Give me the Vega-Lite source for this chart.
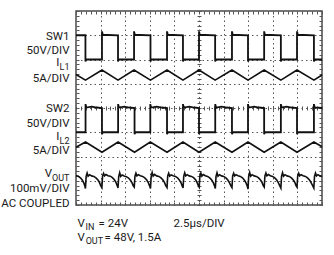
{
"$schema": "https://vega.github.io/schema/vega-lite/v6.json",
"width": 246, "height": 194,
"autosize": {"type": "none"},
"padding": {"left": 76, "top": 11, "right": 12, "bottom": 50},
"background": "white",
"config": {
 "view": {"stroke": "#4a4a4a", "strokeWidth": 1.5},
 "axis": {"domain": false, "grid": false, "labels": false, "ticks": false, "labelFont": "Roboto", "labelColor": "#1a1a1a", "tickColor": "#555", "tickWidth": 1, "labelFlush": false, "labelOverlap": false, "labelBound": false}
},
"datasets": {
"sw1": [{"t":0,"v":7},
{"t":0.96,"v":7},{"t":0.96,"v":5.92},{"t":1.05,"v":6},
{"t":2.64,"v":6},{"t":2.64,"v":7.16},{"t":2.72,"v":7.02},
{"t":4.27,"v":7},{"t":4.27,"v":5.92},{"t":4.36,"v":6},
{"t":5.9,"v":6},{"t":5.9,"v":7.16},{"t":5.98,"v":7.02},
{"t":7.57,"v":7},{"t":7.57,"v":5.92},{"t":7.66,"v":6},
{"t":9.25,"v":6},{"t":9.25,"v":7.16},{"t":9.33,"v":7.02},
{"t":10.87,"v":7},{"t":10.87,"v":5.92},{"t":10.96,"v":6},
{"t":12.5,"v":6},{"t":12.5,"v":7.16},{"t":12.58,"v":7.02},
{"t":14.14,"v":7},{"t":14.14,"v":5.92},{"t":14.23,"v":6},
{"t":15.85,"v":6},{"t":15.85,"v":7.16},{"t":15.93,"v":7.02},
{"t":17.48,"v":7},{"t":17.48,"v":5.92},{"t":17.57,"v":6},
{"t":19.12,"v":6},{"t":19.12,"v":7.16},{"t":19.2,"v":7.02},
{"t":20.82,"v":7},{"t":20.82,"v":5.92},{"t":20.91,"v":6},
{"t":22.46,"v":6},{"t":22.46,"v":7.16},{"t":22.54,"v":7.02},
{"t":24.18,"v":7},{"t":24.18,"v":5.92},{"t":24.27,"v":6},
{"t":25,"v":6}],
"sw2": [{"t":0,"v":3},
{"t":0.97,"v":3},{"t":0.97,"v":4.16},{"t":1.05,"v":4.02},{"t":1.6,"v":4.06},{"t":2.1,"v":4.02},
{"t":2.64,"v":4},{"t":2.64,"v":2.92},{"t":2.73,"v":3},
{"t":4.28,"v":3},{"t":4.28,"v":4.16},{"t":4.36,"v":4.02},{"t":4.9,"v":4.06},{"t":5.4,"v":4.02},
{"t":5.95,"v":4},{"t":5.95,"v":2.92},{"t":6.04,"v":3},
{"t":7.55,"v":3},{"t":7.55,"v":4.16},{"t":7.63,"v":4.02},{"t":8.2,"v":4.06},{"t":8.7,"v":4.02},
{"t":9.25,"v":4},{"t":9.25,"v":2.92},{"t":9.34,"v":3},
{"t":10.87,"v":3},{"t":10.87,"v":4.16},{"t":10.95,"v":4.02},{"t":11.5,"v":4.06},{"t":12,"v":4.02},
{"t":12.5,"v":4},{"t":12.5,"v":2.92},{"t":12.59,"v":3},
{"t":14.15,"v":3},{"t":14.15,"v":4.16},{"t":14.23,"v":4.02},{"t":14.8,"v":4.06},{"t":15.3,"v":4.02},
{"t":15.85,"v":4},{"t":15.85,"v":2.92},{"t":15.94,"v":3},
{"t":17.48,"v":3},{"t":17.48,"v":4.16},{"t":17.56,"v":4.02},{"t":18.1,"v":4.06},{"t":18.6,"v":4.02},
{"t":19.12,"v":4},{"t":19.12,"v":2.92},{"t":19.21,"v":3},
{"t":20.82,"v":3},{"t":20.82,"v":4.16},{"t":20.9,"v":4.02},{"t":21.4,"v":4.06},{"t":21.9,"v":4.02},
{"t":22.46,"v":4},{"t":22.46,"v":2.92},{"t":22.55,"v":3},
{"t":24.18,"v":3},{"t":24.18,"v":4.16},{"t":24.26,"v":4.02},
{"t":25,"v":4}],
"il1": [{"t":0,"v":5.38},{"t":0.96,"v":5.15},{"t":2.64,"v":5.57},{"t":4.27,"v":5.15},{"t":5.9,"v":5.57},{"t":7.57,"v":5.15},{"t":9.25,"v":5.57},{"t":10.87,"v":5.15},{"t":12.5,"v":5.57},{"t":14.14,"v":5.15},{"t":15.85,"v":5.57},{"t":17.48,"v":5.15},{"t":19.12,"v":5.57},{"t":20.82,"v":5.15},{"t":22.46,"v":5.57},{"t":24.18,"v":5.15},{"t":25,"v":5.36}],
"il2": [{"t":0,"v":2.38},{"t":0.97,"v":2.6},{"t":2.64,"v":2.18},{"t":4.28,"v":2.6},{"t":5.95,"v":2.18},{"t":7.55,"v":2.6},{"t":9.25,"v":2.18},{"t":10.87,"v":2.6},{"t":12.5,"v":2.18},{"t":14.15,"v":2.6},{"t":15.85,"v":2.18},{"t":17.48,"v":2.6},{"t":19.12,"v":2.18},{"t":20.82,"v":2.6},{"t":22.46,"v":2.18},{"t":24.18,"v":2.6},{"t":25,"v":2.4}],
"vout": [{"t":0,"v":1.2},{"t":0.2,"v":1.19},{"t":0.45,"v":1.12},{"t":0.65,"v":1.02},{"t":0.8,"v":0.9},{"t":0.9,"v":0.78},
{"t":0.96,"v":0.68},{"t":1.03,"v":1.18},{"t":1.13,"v":1.32},{"t":1.23,"v":1.19},{"t":1.38,"v":1.25},{"t":1.58,"v":1.2},{"t":1.81,"v":1.18},{"t":2.03,"v":1.12},{"t":2.23,"v":1.03},{"t":2.39,"v":0.92},{"t":2.51,"v":0.8},
{"t":2.63,"v":0.72},{"t":2.7,"v":1.2},{"t":2.8,"v":1.3},{"t":2.9,"v":1.2},{"t":3.05,"v":1.26},{"t":3.25,"v":1.21},{"t":3.48,"v":1.19},{"t":3.7,"v":1.13},{"t":3.9,"v":1.04},{"t":4.06,"v":0.93},{"t":4.18,"v":0.81},
{"t":4.27,"v":0.7},{"t":4.34,"v":1.17},{"t":4.44,"v":1.33},{"t":4.54,"v":1.18},{"t":4.69,"v":1.24},{"t":4.89,"v":1.2},{"t":5.12,"v":1.17},{"t":5.34,"v":1.11},{"t":5.54,"v":1.02},{"t":5.7,"v":0.91},{"t":5.82,"v":0.79},
{"t":5.92,"v":0.74},{"t":5.99,"v":1.19},{"t":6.09,"v":1.31},{"t":6.19,"v":1.2},{"t":6.34,"v":1.25},{"t":6.54,"v":1.21},{"t":6.77,"v":1.18},{"t":6.99,"v":1.12},{"t":7.19,"v":1.03},{"t":7.35,"v":0.92},{"t":7.47,"v":0.8},
{"t":7.57,"v":0.68},{"t":7.64,"v":1.18},{"t":7.74,"v":1.34},{"t":7.84,"v":1.19},{"t":7.99,"v":1.26},{"t":8.19,"v":1.2},{"t":8.42,"v":1.18},{"t":8.64,"v":1.12},{"t":8.84,"v":1.03},{"t":9,"v":0.92},{"t":9.12,"v":0.8},
{"t":9.25,"v":0.72},{"t":9.32,"v":1.2},{"t":9.42,"v":1.31},{"t":9.52,"v":1.19},{"t":9.67,"v":1.24},{"t":9.87,"v":1.21},{"t":10.1,"v":1.18},{"t":10.32,"v":1.12},{"t":10.52,"v":1.02},{"t":10.68,"v":0.91},{"t":10.78,"v":0.8},
{"t":10.88,"v":0.7},{"t":10.95,"v":1.19},{"t":11.05,"v":1.33},{"t":11.15,"v":1.2},{"t":11.3,"v":1.25},{"t":11.5,"v":1.2},{"t":11.73,"v":1.18},{"t":11.95,"v":1.13},{"t":12.15,"v":1.04},{"t":12.31,"v":0.92},{"t":12.43,"v":0.8},
{"t":12.52,"v":0.74},{"t":12.59,"v":1.2},{"t":12.69,"v":1.32},{"t":12.79,"v":1.19},{"t":12.94,"v":1.26},{"t":13.14,"v":1.21},{"t":13.37,"v":1.18},{"t":13.59,"v":1.12},{"t":13.79,"v":1.03},{"t":13.95,"v":0.92},{"t":14.07,"v":0.8},
{"t":14.16,"v":0.68},{"t":14.23,"v":1.18},{"t":14.33,"v":1.33},{"t":14.43,"v":1.19},{"t":14.58,"v":1.25},{"t":14.78,"v":1.2},{"t":15.01,"v":1.18},{"t":15.23,"v":1.12},{"t":15.43,"v":1.03},{"t":15.59,"v":0.92},{"t":15.73,"v":0.8},
{"t":15.85,"v":0.72},{"t":15.92,"v":1.2},{"t":16.02,"v":1.31},{"t":16.12,"v":1.2},{"t":16.27,"v":1.25},{"t":16.47,"v":1.21},{"t":16.7,"v":1.18},{"t":16.92,"v":1.12},{"t":17.12,"v":1.02},{"t":17.28,"v":0.91},{"t":17.39,"v":0.8},
{"t":17.48,"v":0.66},{"t":17.55,"v":1.18},{"t":17.65,"v":1.34},{"t":17.75,"v":1.19},{"t":17.9,"v":1.25},{"t":18.1,"v":1.2},{"t":18.33,"v":1.18},{"t":18.55,"v":1.12},{"t":18.75,"v":1.03},{"t":18.91,"v":0.92},{"t":19.03,"v":0.8},
{"t":19.13,"v":0.74},{"t":19.2,"v":1.2},{"t":19.3,"v":1.32},{"t":19.4,"v":1.2},{"t":19.55,"v":1.26},{"t":19.75,"v":1.21},{"t":19.98,"v":1.18},{"t":20.2,"v":1.12},{"t":20.4,"v":1.03},{"t":20.56,"v":0.92},{"t":20.7,"v":0.8},
{"t":20.82,"v":0.7},{"t":20.89,"v":1.19},{"t":20.99,"v":1.33},{"t":21.09,"v":1.19},{"t":21.24,"v":1.25},{"t":21.44,"v":1.2},{"t":21.67,"v":1.18},{"t":21.89,"v":1.12},{"t":22.09,"v":1.03},{"t":22.25,"v":0.92},{"t":22.36,"v":0.8},
{"t":22.46,"v":0.74},{"t":22.53,"v":1.2},{"t":22.63,"v":1.31},{"t":22.73,"v":1.2},{"t":22.88,"v":1.25},{"t":23.08,"v":1.21},{"t":23.31,"v":1.18},{"t":23.53,"v":1.12},{"t":23.73,"v":1.03},{"t":23.89,"v":0.92},{"t":24.05,"v":0.8},
{"t":24.17,"v":0.7},{"t":24.24,"v":1.19},{"t":24.34,"v":1.32},{"t":24.44,"v":1.2},{"t":24.59,"v":1.25},{"t":24.79,"v":1.2},{"t":25,"v":1.18}]
},
"layer": [
{"data": {"name": "sw1"},
 "mark": {"type": "line", "color": "#111", "strokeWidth": 1.8},
 "encoding": {
  "x": {"field": "t", "type": "quantitative", "scale": {"domain": [0, 25], "nice": false, "zero": false},
        "axis": {"orient": "bottom", "title": null, "grid": true, "values": [2.5, 5, 7.5, 10, 12.5, 15, 17.5, 20, 22.5], "gridDash": [1.5, 3], "gridColor": "#555", "gridWidth": 1}},
  "y": {"field": "v", "type": "quantitative", "scale": {"domain": [0, 8], "nice": false, "zero": false},
        "axis": {"orient": "left", "title": null, "grid": true, "values": [1, 2, 3, 4, 5, 6, 7], "gridDash": [1.5, 3], "gridColor": "#555", "gridWidth": 1}},
  "order": {"value": null}}},
{"data": {"name": "il1"},
 "mark": {"type": "line", "color": "#111", "strokeWidth": 1.7},
 "encoding": {
  "x": {"field": "t", "type": "quantitative", "scale": {"domain": [0, 25], "nice": false, "zero": false},
        "axis": {"orient": "bottom", "title": null, "ticks": true, "tickCount": 50, "tickSize": -3}},
  "y": {"field": "v", "type": "quantitative", "scale": {"domain": [0, 8], "nice": false, "zero": false},
        "axis": {"orient": "left", "title": null, "ticks": true, "tickCount": 40, "tickSize": -3}},
  "order": {"value": null}}},
{"data": {"name": "sw2"},
 "mark": {"type": "line", "color": "#111", "strokeWidth": 1.8},
 "encoding": {
  "x": {"field": "t", "type": "quantitative", "scale": {"domain": [0, 25], "nice": false, "zero": false},
        "axis": {"orient": "top", "title": null, "ticks": true, "tickCount": 50, "tickSize": -3}},
  "y": {"field": "v", "type": "quantitative", "scale": {"domain": [0, 8], "nice": false, "zero": false},
        "axis": {"orient": "right", "title": null, "ticks": true, "tickCount": 40, "tickSize": -3}},
  "order": {"value": null}}},
{"data": {"name": "il2"},
 "mark": {"type": "line", "color": "#111", "strokeWidth": 1.7},
 "encoding": {
  "x": {"field": "t", "type": "quantitative", "scale": {"domain": [0, 25], "nice": false, "zero": false},
        "axis": {"orient": "bottom", "title": null, "offset": -95, "ticks": true, "tickCount": 50, "tickSize": -4}},
  "y": {"field": "v", "type": "quantitative", "scale": {"domain": [0, 8], "nice": false, "zero": false},
        "axis": {"orient": "left", "title": null, "offset": -121, "ticks": true, "tickCount": 40, "tickSize": -4}},
  "order": {"value": null}}},
{"data": {"name": "vout"},
 "mark": {"type": "line", "color": "#111", "strokeWidth": 1.6},
 "encoding": {
  "x": {"field": "t", "type": "quantitative", "scale": {"domain": [0, 25], "nice": false, "zero": false},
        "axis": {"orient": "bottom", "title": null, "labels": true, "tickSize": 0,
                 "values": [0.1, 0.91, 2.24, 0.11, 0.93, 2.85, 9.86],
                 "labelExpr": "datum.value == 0.1 ? 'V' : datum.value == 0.91 ? 'IN' : datum.value == 2.24 ? '= 24V' : datum.value == 0.11 ? 'V' : datum.value == 0.93 ? 'OUT' : datum.value == 2.85 ? '= 48V, 1.5A' : '2.5µs/DIV'",
                 "labelAlign": "left", "labelBaseline": "alphabetic",
                 "labelPadding": {"condition": [{"test": "datum.value == 0.93", "value": 38}, {"test": "datum.value == 0.11 || datum.value == 2.85", "value": 35}, {"test": "datum.value == 0.91", "value": 24}], "value": 21},
                 "labelFontSize": {"condition": {"test": "datum.value == 0.91 || datum.value == 0.93", "value": 9}, "value": 11.5}}},
  "y": {"field": "v", "type": "quantitative", "scale": {"domain": [0, 8], "nice": false, "zero": false},
        "axis": {"orient": "left", "title": null, "labels": true, "tickSize": 0,
                 "values": [6.93, 6.39, 5.88, 5.72, 5.2, 3.96, 3.38, 2.83, 2.67, 2.23, 1.3, 1.14, 0.66, 0.08],
                 "labelExpr": "datum.value == 6.93 ? 'SW1' : datum.value == 6.39 ? '50V/DIV' : datum.value == 5.88 ? 'I' : datum.value == 5.72 ? 'L1' : datum.value == 5.2 ? '5A/DIV' : datum.value == 3.96 ? 'SW2' : datum.value == 3.38 ? '50V/DIV' : datum.value == 2.83 ? 'I' : datum.value == 2.67 ? 'L2' : datum.value == 2.23 ? '5A/DIV' : datum.value == 1.3 ? 'V' : datum.value == 1.14 ? 'OUT' : datum.value == 0.66 ? '100mV/DIV' : 'AC COUPLED'",
                 "labelAlign": "right", "labelBaseline": "middle",
                 "labelPadding": {"condition": [{"test": "datum.value == 5.88 || datum.value == 2.83", "value": 17}, {"test": "datum.value == 1.3", "value": 24.5}], "value": 7},
                 "labelFontSize": {"condition": {"test": "datum.value == 5.72 || datum.value == 2.67 || datum.value == 1.14", "value": 9}, "value": 11.5}}},
  "order": {"value": null}}}
],
"resolve": {"axis": {"x": "independent", "y": "independent"}}
}
